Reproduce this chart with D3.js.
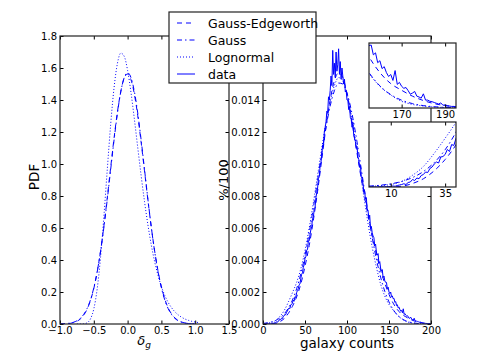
<!DOCTYPE html>
<html>
<head>
<meta charset="utf-8">
<style>
  body { margin: 0; background: #fff; }
  svg { display: block; font-family: 'DejaVu Sans', sans-serif; }
</style>
</head>
<body>
<script src="https://cdn.jsdelivr.net/npm/d3@7"></script>
<script>
// left panel: PDF of delta_g
var deltaGrid = [-1.0, -0.95, -0.9, -0.85, -0.8, -0.75, -0.7, -0.65, -0.6, -0.55,
  -0.5, -0.45, -0.4, -0.35, -0.3, -0.25, -0.2, -0.15, -0.1, -0.05,
  0.0, 0.05, 0.1, 0.15, 0.2, 0.25, 0.3, 0.35, 0.4, 0.45,
  0.5, 0.55, 0.6, 0.65, 0.7, 0.75, 0.8, 0.85, 0.9, 0.95, 1.0, 1.05]
var edgeworthPdf = [0.0, 0.001, 0.002, 0.004, 0.009, 0.017, 0.031, 0.055, 0.092, 0.146,
  0.222, 0.325, 0.456, 0.614, 0.792, 0.980, 1.163, 1.326, 1.455, 1.537,
  1.562, 1.527, 1.437, 1.302, 1.136, 0.957, 0.776, 0.607, 0.457, 0.332,
  0.232, 0.156, 0.101, 0.063, 0.038, 0.022, 0.012, 0.006, 0.003, 0.001, 0.0, null]
var gaussPdf = [0.0007, 0.0014, 0.003, 0.0058, 0.011, 0.0201, 0.0352, 0.0593, 0.0963, 0.150,
  0.226, 0.327, 0.454, 0.607, 0.781, 0.967, 1.151, 1.319, 1.453, 1.540,
  1.570, 1.540, 1.453, 1.319, 1.151, 0.967, 0.781, 0.607, 0.454, 0.327,
  0.226, 0.150, 0.0963, 0.0593, 0.0352, 0.0201, 0.011, 0.0058, 0.003, 0.0014, 0.0007, null]
var lognormalPdf = [null, null, null, null, null, 0.0, 0.0001, 0.0011, 0.0074, 0.0313,
  0.0943, 0.219, 0.417, 0.677, 0.969, 1.249, 1.478, 1.630, 1.693, 1.673,
  1.585, 1.447, 1.281, 1.103, 0.928, 0.766, 0.621, 0.495, 0.390, 0.304,
  0.234, 0.179, 0.135, 0.102, 0.0762, 0.0567, 0.042, 0.031, 0.0228, 0.0167, 0.0122, 0.0089]

// right panel: counts-in-cells, models on a 5-count grid
var countGrid = [0, 5, 10, 15, 20, 25, 30, 35, 40, 45, 50, 55, 60, 65, 70, 75, 80, 85, 90, 95,
  100, 105, 110, 115, 120, 125, 130, 135, 140, 145, 150, 155, 160, 165, 170, 175, 180, 185, 190, 195, 200]
var edgeworthCounts = [0.0, 0.0, 0.000005, 0.00003, 0.00014, 0.00033, 0.00065, 0.0011, 0.00169, 0.0025,
  0.0036, 0.0049, 0.0065, 0.0083, 0.0103, 0.0123, 0.0140, 0.0152, 0.0157, 0.0154,
  0.0144, 0.0129, 0.0113, 0.0097, 0.0082, 0.0068, 0.0055, 0.0044, 0.00335, 0.00255,
  0.00185, 0.0013, 0.0009, 0.00062, 0.00045, 0.0003, 0.00019, 0.00011, 0.00006, 0.00003, 0.00001]
var gaussCounts = [0.000036, 0.000069, 0.000126, 0.000222, 0.000377, 0.000618, 0.000978, 0.00149, 0.0022, 0.00313,
  0.0043, 0.0057, 0.00728, 0.00899, 0.0107, 0.01229, 0.01363, 0.01458, 0.01506, 0.0150,
  0.01443, 0.01339, 0.01199, 0.01036, 0.00864, 0.00695, 0.0054, 0.00405, 0.00293, 0.00204,
  0.00138, 0.0009, 0.000562, 0.00034, 0.000198, 0.000112, 0.000061, 0.000032, 0.000016, 0.000008, 0.000004]
var lognormalCounts = [0.00002, 0.00005, 0.0001, 0.00022, 0.00047, 0.00082, 0.00135, 0.00195, 0.0026, 0.00345,
  0.0046, 0.006, 0.0076, 0.0093, 0.011, 0.0126, 0.0139, 0.0149, 0.0154, 0.0152,
  0.0144, 0.0131, 0.0115, 0.0098, 0.008, 0.0063, 0.0048, 0.00355, 0.0025, 0.00175,
  0.00122, 0.00087, 0.00055, 0.00033, 0.00017, 0.00009, 0.00005, 0.000025, 0.000012, 0.000006, 0.000003]
// measured histogram, one value per galaxy count 0..200
var dataCounts = [0, 0, 0, 0, 0.000005, 0, 0.00001, 0.000005, 0.00002, 0.00001,
  0.00003, 0.00004, 0.00003, 0.00006, 0.00008, 0.0001, 0.00013, 0.0001, 0.00018, 0.0002,
  0.0003, 0.00026, 0.00036, 0.00033, 0.00046, 0.0005, 0.0006, 0.00058, 0.00074, 0.0008,
  0.00092, 0.001, 0.00096, 0.0012, 0.00122, 0.0013, 0.0015, 0.00142, 0.0017, 0.00166,
  0.00195, 0.0021, 0.0022, 0.00245, 0.0025, 0.00285, 0.0031, 0.0032, 0.00355, 0.0037,
  0.0041, 0.0042, 0.0046, 0.00465, 0.0052, 0.0052, 0.0056, 0.0059, 0.0061, 0.0066,
  0.0067, 0.0072, 0.0073, 0.0079, 0.0082, 0.0085, 0.0091, 0.0092, 0.0099, 0.0101,
  0.0106, 0.0112, 0.0111, 0.012, 0.0123, 0.0126, 0.0133, 0.0132, 0.0142, 0.014,
  0.0146, 0.0155, 0.0149, 0.0171, 0.0156, 0.0163, 0.0154, 0.017, 0.0158, 0.0162,
  0.0172, 0.0156, 0.0164, 0.0153, 0.016, 0.0155, 0.015, 0.0153, 0.0145, 0.0146,
  0.014, 0.014, 0.0134, 0.0136, 0.0129, 0.0128, 0.0123, 0.0126, 0.0118, 0.0116,
  0.0114, 0.011, 0.0111, 0.0104, 0.0103, 0.0098, 0.0099, 0.0092, 0.0091, 0.0088,
  0.0083, 0.0083, 0.0078, 0.0079, 0.0072, 0.0071, 0.0066, 0.0068, 0.006, 0.0061,
  0.0057, 0.0055, 0.0054, 0.0049, 0.005, 0.0045, 0.0043, 0.0044, 0.0038, 0.0039,
  0.0035, 0.0033, 0.0034, 0.0029, 0.003, 0.0027, 0.0026, 0.0026, 0.0022, 0.0023,
  0.002, 0.0019, 0.002, 0.0017, 0.00175, 0.00158, 0.0016, 0.00135, 0.0014, 0.00115,
  0.0012, 0.001, 0.00105, 0.0009, 0.0008, 0.00085, 0.0007, 0.00095, 0.0006, 0.00065,
  0.00055, 0.0005, 0.00052, 0.00044, 0.00035, 0.00038, 0.00042, 0.0003, 0.00028, 0.00025,
  0.00036, 0.0002, 0.0002, 0.00017, 0.00016, 0.00014, 0.00012, 0.0001, 0.00013, 0.00007,
  0.00008, 0.00006, 0.00005, 0.00004, 0.00004, 0.00003, 0.00002, 0.00002, 0.00001, 0.00001, 0]

var seriesNames = ['Gauss-Edgeworth', 'Gauss', 'Lognormal', 'data']
var leftXTicks = [-1.0, -0.5, 0.0, 0.5, 1.0, 1.5]
var leftYTicks = [0.0, 0.2, 0.4, 0.6, 0.8, 1.0, 1.2, 1.4, 1.6, 1.8]
var rightXTicks = [0, 50, 100, 150, 200]
// 0.016 and 0.018 sit under the legend
var rightYTicks = [0.000, 0.002, 0.004, 0.006, 0.008, 0.010, 0.012, 0.014]
var tailHighTicks = [170, 190]
var tailLowTicks = [10, 35]

;(function () {
  'use strict'

  var blue = '#0000ff'
  var styles = {
    'Gauss-Edgeworth': '5,4',
    'Gauss': '5,3,1.5,3',
    'Lognormal': '1,2',
    'data': null
  }
  var tickLen = 3.5

  var svg = d3.select('body').append('svg')
    .attr('width', 480)
    .attr('height', 360)

  function pairs (xs, ys) {
    return xs.map(function (x, i) { return [x, ys[i]] })
  }

  var dataPairs = dataCounts.map(function (v, i) { return [i, v] })

  function panel (id, box, xDomain, yDomain) {
    var x = d3.scaleLinear().domain(xDomain).range([box.left, box.right])
    var y = d3.scaleLinear().domain(yDomain).range([box.bottom, box.top])
    var g = svg.append('g').attr('class', id)
    g.append('rect')
      .attr('x', box.left).attr('y', box.top)
      .attr('width', box.right - box.left).attr('height', box.bottom - box.top)
      .attr('fill', '#fff')
    svg.append('clipPath').attr('id', 'clip-' + id)
      .append('rect')
      .attr('x', box.left).attr('y', box.top)
      .attr('width', box.right - box.left).attr('height', box.bottom - box.top)
    var plot = g.append('g').attr('clip-path', 'url(#clip-' + id + ')')
    return { g: g, plot: plot, x: x, y: y, box: box }
  }

  function drawLine (p, pts, name) {
    var line = d3.line()
      .defined(function (d) { return d[1] != null })
      .x(function (d) { return p.x(d[0]) })
      .y(function (d) { return p.y(d[1]) })
    if (name !== 'data') line.curve(d3.curveMonotoneX)
    p.plot.append('path')
      .datum(pts)
      .attr('fill', 'none')
      .attr('stroke', blue)
      .attr('stroke-width', 1)
      .attr('stroke-dasharray', styles[name])
      .attr('d', line)
  }

  function styleAxis (sel) {
    sel.select('.domain').remove()
    sel.selectAll('line').attr('stroke', '#000')
    sel.selectAll('text')
      .attr('fill', '#000')
      .style('font-family', "'DejaVu Sans', sans-serif")
      .style('font-size', '10px')
  }

  function axes (p, xTicks, yTicks, xFmt, yFmt) {
    var b = p.box
    p.g.append('g').attr('transform', 'translate(0,' + b.bottom + ')')
      .call(d3.axisBottom(p.x).tickValues(xTicks).tickFormat(xFmt)
        .tickSizeInner(-tickLen).tickSizeOuter(0).tickPadding(3))
      .call(styleAxis)
    p.g.append('g').attr('transform', 'translate(0,' + b.top + ')')
      .call(d3.axisTop(p.x).tickValues(xTicks).tickFormat('')
        .tickSizeInner(-tickLen).tickSizeOuter(0))
      .call(styleAxis)
    if (yTicks) {
      p.g.append('g').attr('transform', 'translate(' + b.left + ',0)')
        .call(d3.axisLeft(p.y).tickValues(yTicks).tickFormat(yFmt)
          .tickSizeInner(-tickLen).tickSizeOuter(0).tickPadding(3))
        .call(styleAxis)
      p.g.append('g').attr('transform', 'translate(' + b.right + ',0)')
        .call(d3.axisRight(p.y).tickValues(yTicks).tickFormat('')
          .tickSizeInner(-tickLen).tickSizeOuter(0))
        .call(styleAxis)
    }
    p.g.append('rect')
      .attr('x', b.left).attr('y', b.top)
      .attr('width', b.right - b.left).attr('height', b.bottom - b.top)
      .attr('fill', 'none')
      .attr('stroke', '#222')
      .attr('stroke-width', 1.2)
  }

  function label (txt, x, y, rotate, size) {
    var t = svg.append('text')
      .attr('text-anchor', 'middle')
      .attr('font-size', size || 13)
      .attr('fill', '#000')
      .attr('transform', 'translate(' + x + ',' + y + ')' + (rotate ? ' rotate(-90)' : ''))
    t.text(txt)
    return t
  }

  // left panel
  var left = panel('left', { left: 60, right: 229, top: 36, bottom: 324 }, [-1.0, 1.5], [0, 1.8])
  drawLine(left, pairs(deltaGrid, edgeworthPdf), 'Gauss-Edgeworth')
  drawLine(left, pairs(deltaGrid, gaussPdf), 'Gauss')
  drawLine(left, pairs(deltaGrid, lognormalPdf), 'Lognormal')
  axes(left, leftXTicks, leftYTicks, d3.format('.1f'), d3.format('.1f'))

  // right panel
  var right = panel('right', { left: 263, right: 431, top: 36, bottom: 324 }, [0, 200], [0, 0.018])
  drawLine(right, pairs(countGrid, edgeworthCounts), 'Gauss-Edgeworth')
  drawLine(right, pairs(countGrid, gaussCounts), 'Gauss')
  drawLine(right, pairs(countGrid, lognormalCounts), 'Lognormal')
  drawLine(right, dataPairs, 'data')
  axes(right, rightXTicks, rightYTicks, d3.format('d'), d3.format('.3f'))

  label('PDF', 39, 177, true, 13.5)
  label('%/100', 228, 180, true)
  label('galaxy counts', 347, 348, false, 13.5)
  var dl = label('', 144, 345)
  dl.append('tspan').attr('font-style', 'italic').text('δ')
  dl.append('tspan').attr('font-style', 'italic').attr('font-size', 9).attr('dy', 3).text('g')

  // insets on the tails
  var insets = [
    { id: 'tailhigh', box: { left: 369, right: 456, top: 43, bottom: 108 }, xd: [155, 195], yd: [0, 0.00165], ticks: tailHighTicks },
    { id: 'taillow', box: { left: 369, right: 456, top: 122, bottom: 187 }, xd: [0, 40], yd: [0, 0.0026], ticks: tailLowTicks }
  ]
  insets.forEach(function (s) {
    var p = panel(s.id, s.box, s.xd, s.yd)
    drawLine(p, pairs(countGrid, edgeworthCounts), 'Gauss-Edgeworth')
    drawLine(p, pairs(countGrid, gaussCounts), 'Gauss')
    drawLine(p, pairs(countGrid, lognormalCounts), 'Lognormal')
    drawLine(p, dataPairs, 'data')
    axes(p, s.ticks, null, d3.format('d'))
  })

  // legend
  var lg = svg.append('g').attr('class', 'legend')
  lg.append('rect')
    .attr('x', 169).attr('y', 12)
    .attr('width', 147).attr('height', 71)
    .attr('fill', '#fff')
    .attr('stroke', '#222')
    .attr('stroke-width', 1.2)
  var rows = lg.selectAll('.row').data(seriesNames)
    .enter().append('g')
      .attr('class', 'row')
      .attr('transform', function (d, i) { return 'translate(0,' + (23 + i * 17) + ')' })
  rows.append('line')
    .attr('x1', 177).attr('x2', 195)
    .attr('stroke', blue)
    .attr('stroke-width', 1)
    .attr('stroke-dasharray', function (d) { return styles[d] })
  rows.append('text')
    .attr('x', 208)
    .attr('dy', '0.36em')
    .attr('font-size', 12.5)
    .attr('fill', '#000')
    .text(function (d) { return d })
}())
</script>
</body>
</html>
